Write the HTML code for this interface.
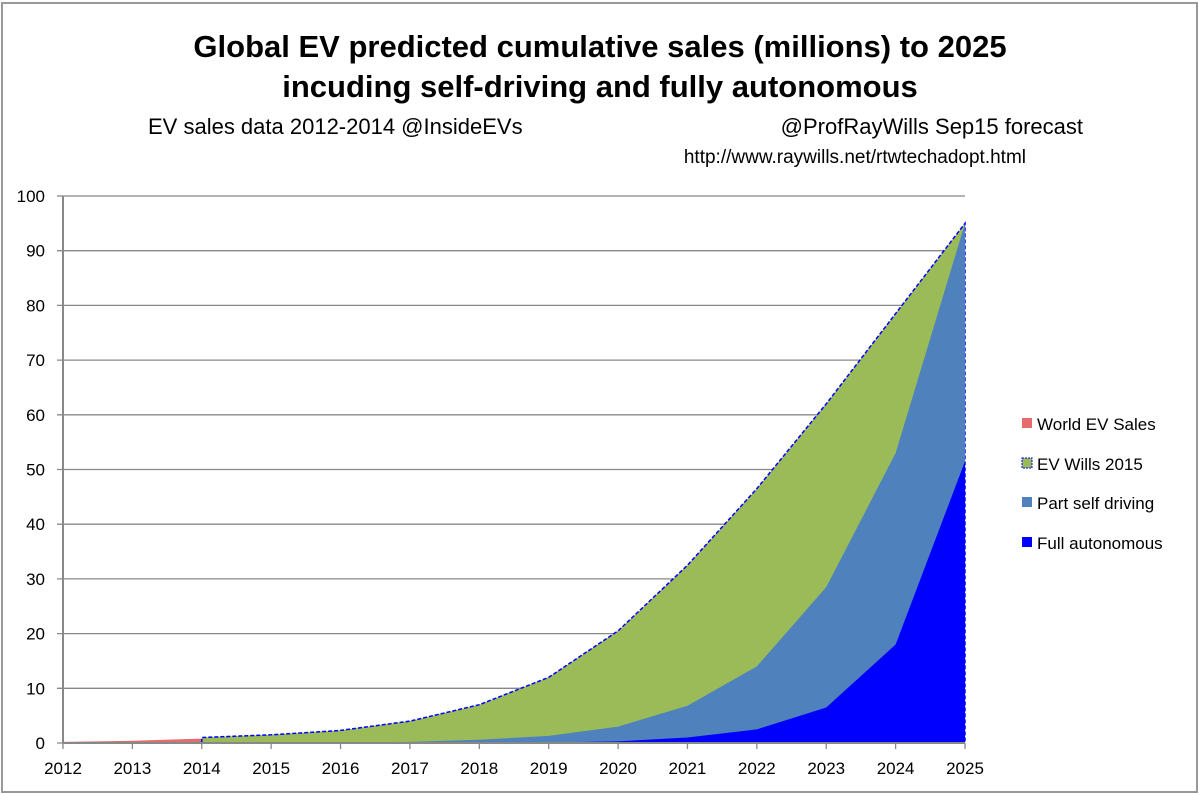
<!DOCTYPE html>
<html><head><meta charset="utf-8"><style>
body{margin:0;background:#fff}
svg{display:block;font-family:"Liberation Sans",sans-serif}
</style></head><body>
<svg id="chart" width="1200" height="794">
<rect x="2" y="3" width="1195" height="789" fill="#fff" stroke="#999" stroke-width="2"/>
<text x="600" y="57" text-anchor="middle" font-size="31" font-weight="bold">Global EV predicted cumulative sales (millions) to 2025</text>
<text x="600" y="97" text-anchor="middle" font-size="31" font-weight="bold">incuding self-driving and fully autonomous</text>
<text x="148" y="134" font-size="22">EV sales data 2012-2014 @InsideEVs</text>
<text x="1083" y="134" text-anchor="end" font-size="22">@ProfRayWills Sep15 forecast</text>
<text x="1026" y="163" text-anchor="end" font-size="19">http://www.raywills.net/rtwtechadopt.html</text>
<g id="grid"></g><g id="areas"></g><g id="axes"></g>
<g>
<rect x="1022" y="418" width="10" height="10" fill="#E46C6C"/>
<text x="1037" y="430" font-size="17">World EV Sales</text>
<rect x="1022" y="458" width="10" height="10" fill="#9BBB59" stroke="#00f" stroke-dasharray="2,1"/>
<text x="1037" y="470" font-size="17">EV Wills 2015</text>
<rect x="1022" y="497" width="10" height="10" fill="#4F81BD"/>
<text x="1037" y="509" font-size="17">Part self driving</text>
<rect x="1022" y="537" width="10" height="10" fill="#0000FF"/>
<text x="1037" y="549" font-size="17">Full autonomous</text>
</g>
</svg>
<script>
const years=[2012,2013,2014,2015,2016,2017,2018,2019,2020,2021,2022,2023,2024,2025];
const worldSales=[0.2,0.4,0.8,null,null,null,null,null,null,null,null,null,null,null];
const evWills=[null,null,1,1.5,2.3,4,7,12,20.5,32.5,46.5,62,78.5,95];
const partSelf=[null,null,0.1,0.1,0.1,0.2,0.6,1.3,3,6.8,14,28.5,53,95];
const fullAuto=[null,null,0,0,0,0,0.05,0.1,0.3,1,2.5,6.5,18,51.5];
const yTicks=[0,10,20,30,40,50,60,70,80,90,100];
const NS="http://www.w3.org/2000/svg";
const x0=63,x1=965,y0=743,y1=196;
const xs=i=>x0+(x1-x0)*i/(years.length-1);
const ys=v=>y0-(y0-y1)*v/100;
function mk(t,a,p){const e=document.createElementNS(NS,t);for(const k in a)e.setAttribute(k,a[k]);p.appendChild(e);return e;}
const grid=document.getElementById('grid'),areas=document.getElementById('areas'),axes=document.getElementById('axes');
yTicks.forEach(v=>{
  const l=mk('line',{x1:x0-6,x2:x1,y1:ys(v),y2:ys(v),stroke:'#888','stroke-width':1.3},grid);
  
  
  const t=mk('text',{x:x0-18,y:ys(v)+6,'text-anchor':'end','font-size':17},axes);t.textContent=v;
  
  
});
function area(vals,fill,name,dash){
  const pts=[];vals.forEach((v,i)=>{if(v!==null)pts.push([xs(i),ys(v)]);});
  const first=pts[0][0],last=pts[pts.length-1][0];
  const d='M'+first+','+y0+' '+pts.map(p=>'L'+p[0]+','+p[1]).join(' ')+' L'+last+','+y0+'Z';
  const p=mk('path',{d:d,fill:fill},areas);
  
  
  if(dash){const l=mk('path',{d:d,fill:'none',stroke:'#00f','stroke-width':1.5,'stroke-dasharray':'4,2'},areas);
    
    }
}
area(worldSales,'#E46C6C','area-world-ev-sales');
area(evWills,'#9BBB59','area-ev-wills-2015',true);
area(partSelf,'#4F81BD','area-part-self-driving');
area(fullAuto,'#0000FF','area-full-autonomous');
mk('line',{x1:x0,x2:x1,y1:y0,y2:y0,stroke:'#888','stroke-width':2},axes);
mk('line',{x1:x0,x2:x0,y1:y1,y2:y0,stroke:'#888','stroke-width':2},axes);
years.forEach((yr,i)=>{
  mk('line',{x1:xs(i),x2:xs(i),y1:y0,y2:y0+6,stroke:'#888','stroke-width':1.3},axes);
  const t=mk('text',{x:xs(i),y:y0+31,'text-anchor':'middle','font-size':17},axes);t.textContent=yr;
  
  
});
</script>
</body></html>
